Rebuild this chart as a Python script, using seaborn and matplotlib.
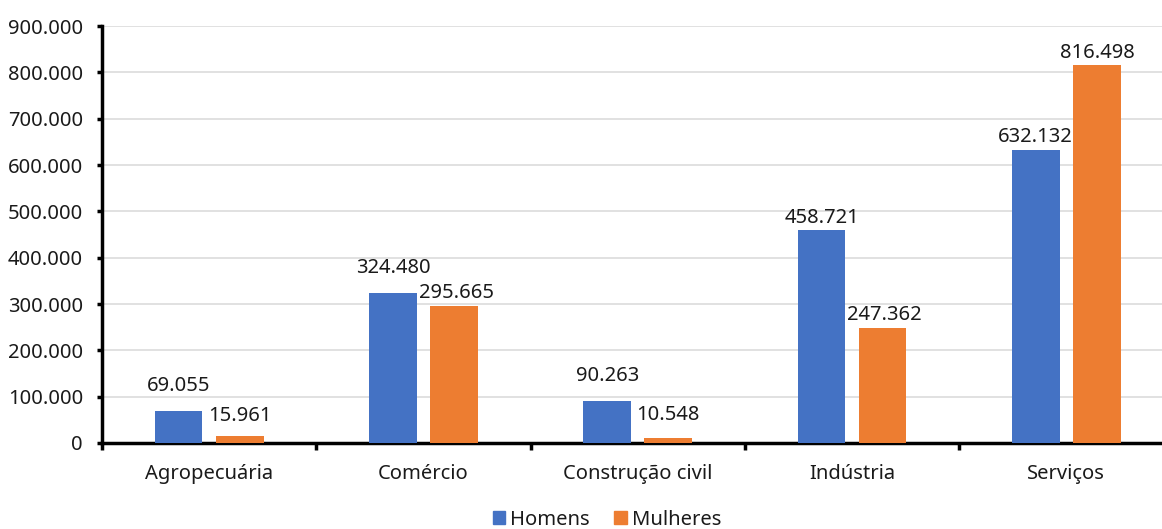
import matplotlib
matplotlib.use("Agg")
import matplotlib.pyplot as plt
import matplotlib.ticker as mticker
import seaborn as sns
import pandas as pd

setores = ["Agropecuária", "Comércio", "Construção civil", "Indústria", "Serviços"]
homens = [69055, 324480, 90263, 458721, 632132]
mulheres = [15961, 295665, 10548, 247362, 816498]
series = ["Homens", "Mulheres"]
cores = ["#4472C4", "#ED7D31"]

# label placement (pixels above the bar top, horizontal nudge) per series
ajuste_homens = [(0, 25), (0, 25), (0, 25), (0, 12), (-1, 13)]
ajuste_mulheres = [(0, 20), (3, 13), (0, 23), (2, 13), (0, 12)]

df = pd.DataFrame({
    "setor": setores * 2,
    "sexo": [series[0]] * len(setores) + [series[1]] * len(setores),
    "valor": homens + mulheres,
})

def fmt_br(v, pos=None):
    return f"{int(round(v)):,}".replace(",", ".")

sns.set_theme(style="white")
plt.rcParams["font.family"] = ["Noto Sans", "DejaVu Sans"]

FS = 14.5
TXT = "#1a1a1a"
W, H = 1162, 529
fig = plt.figure(figsize=(W / 100, H / 100), dpi=100)
ax = fig.add_axes([102 / W, 1 - 443 / H, (W - 102) / W, (443 - 26) / H])

sns.barplot(data=df, x="setor", y="valor", hue="sexo", order=setores,
            hue_order=series, palette=cores, width=0.57, gap=0.22,
            saturation=1, linewidth=0, ax=ax, legend=False, zorder=3)

ax.yaxis.set_major_locator(mticker.MultipleLocator(100000))
ax.yaxis.set_major_formatter(mticker.FuncFormatter(fmt_br))
ax.grid(axis="y", color="#D9D9D9", linewidth=1.1, zorder=0)
ax.set_axisbelow(True)
ax.set_xlabel("")
ax.set_ylabel("")

for s in ["top", "right"]:
    ax.spines[s].set_visible(False)
for s in ["left", "bottom"]:
    ax.spines[s].set_color("black")
    ax.spines[s].set_linewidth(2.5)

ax.tick_params(axis="y", which="major", left=True, length=3.6, width=2.5,
               color="black", labelsize=FS, pad=10, labelcolor=TXT)
# category ticks sit between the groups
ax.set_xticks(range(len(setores)))
ax.set_xticklabels(setores)
ax.tick_params(axis="x", which="major", bottom=False, labelsize=FS, pad=9,
               labelcolor=TXT)
ax.set_xticks([i + 0.5 for i in range(-1, len(setores))], minor=True)
ax.tick_params(axis="x", which="minor", bottom=True, length=5, width=2.5,
               color="black", direction="out")

# limits last, so the tick setup cannot widen them
ax.set_ylim(0, 900000)
ax.set_xlim(-0.5, -0.5 + (W - 102) / 214.3)

for cont, ajustes in zip(ax.containers, [ajuste_homens, ajuste_mulheres]):
    for barra, v, (dx, dy) in zip(cont.patches, cont.datavalues, ajustes):
        x = barra.get_x() + barra.get_width() / 2
        ax.annotate(fmt_br(v), xy=(x, v), xytext=(dx, dy),
                    textcoords="offset pixels", ha="center", va="center",
                    fontsize=FS, color=TXT, zorder=5)

handles = [plt.Rectangle((0, 0), 1, 1, color=c) for c in cores]
leg = fig.legend(handles, series, loc="center", bbox_to_anchor=(607 / W, 1 - 520 / H),
                 ncol=2, frameon=False, fontsize=FS, handlelength=0.62,
                 handleheight=0.62, handletextpad=0.25, columnspacing=1.2,
                 borderpad=0)
for t in leg.get_texts():
    t.set_color(TXT)

fig.savefig("out.png", dpi=100)
